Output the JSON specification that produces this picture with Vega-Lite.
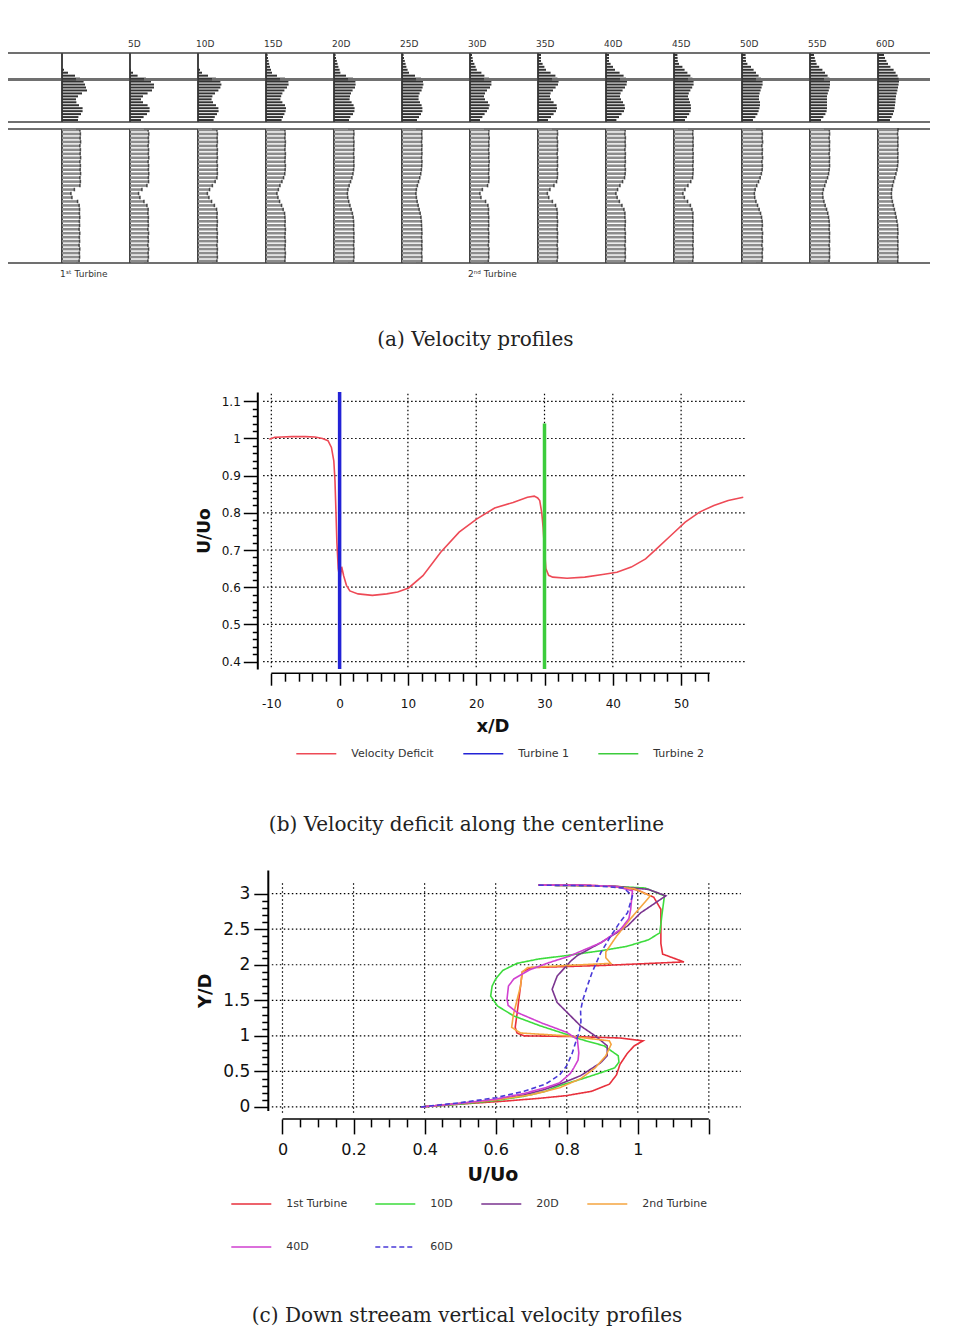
{
"$schema": "https://vega.github.io/schema/vega-lite/v6.json",
"background": "white",
"padding": {"left": 7, "top": 39, "right": 0, "bottom": 0},
"config": {
  "view": {"stroke": null},
  "font": "DejaVu Sans",
  "title": {"font": "DejaVu Serif", "fontSize": 20, "fontWeight": "normal", "color": "#222222"},
  "axis": {"labelFont": "DejaVu Sans", "titleFont": "DejaVu Sans", "labelColor": "#111111", "titleColor": "#111111", "domainColor": "#000000", "tickColor": "#000000", "grid": false},
  "legend": {"labelFont": "DejaVu Sans", "labelColor": "#333333"}
},
"resolve": {"scale": {"x": "independent", "y": "independent", "color": "independent", "strokeDash": "independent"}, "legend": {"color": "independent", "strokeDash": "independent"}},
"spacing": 35,
"datasets": {
"top": [
{"s":0,"z":0.2,"v":0.8},{"s":0,"z":0.5,"v":0.82},{"s":0,"z":0.8,"v":0.95},{"s":0,"z":1.1,"v":1.03},{"s":0,"z":1.4,"v":1.03},{"s":0,"z":1.7,"v":0.85},{"s":0,"z":2.0,"v":0.72},{"s":0,"z":2.3,"v":0.7},{"s":0,"z":2.6,"v":0.8},{"s":0,"z":2.9,"v":1.0},{"s":0,"z":3.2,"v":1.25},{"s":0,"z":3.5,"v":1.2},{"s":0,"z":3.8,"v":1.15},{"s":0,"z":4.1,"v":1.08},{"s":0,"z":4.4,"v":0.9},{"s":0,"z":4.7,"v":0.65},{"s":0,"z":5.0,"v":0.3},{"s":0,"z":5.3,"v":0.1},
{"s":5,"z":0.2,"v":0.55},{"s":5,"z":0.5,"v":0.68},{"s":5,"z":0.8,"v":0.85},{"s":5,"z":1.1,"v":0.98},{"s":5,"z":1.4,"v":0.98},{"s":5,"z":1.7,"v":0.88},{"s":5,"z":2.0,"v":0.65},{"s":5,"z":2.3,"v":0.55},{"s":5,"z":2.6,"v":0.65},{"s":5,"z":2.9,"v":0.88},{"s":5,"z":3.2,"v":1.1},{"s":5,"z":3.5,"v":1.2},{"s":5,"z":3.8,"v":1.2},{"s":5,"z":4.1,"v":1.05},{"s":5,"z":4.4,"v":0.8},{"s":5,"z":4.7,"v":0.38},{"s":5,"z":5.0,"v":0.15},{"s":5,"z":5.3,"v":0.05},
{"s":10,"z":0.2,"v":0.78},{"s":10,"z":0.5,"v":0.84},{"s":10,"z":0.8,"v":0.95},{"s":10,"z":1.1,"v":1.03},{"s":10,"z":1.4,"v":1.02},{"s":10,"z":1.7,"v":0.9},{"s":10,"z":2.0,"v":0.75},{"s":10,"z":2.3,"v":0.68},{"s":10,"z":2.6,"v":0.72},{"s":10,"z":2.9,"v":0.85},{"s":10,"z":3.2,"v":1.02},{"s":10,"z":3.5,"v":1.12},{"s":10,"z":3.8,"v":1.17},{"s":10,"z":4.1,"v":1.12},{"s":10,"z":4.4,"v":0.9},{"s":10,"z":4.7,"v":0.5},{"s":10,"z":5.0,"v":0.2},{"s":10,"z":5.3,"v":0.1},
{"s":15,"z":0.2,"v":0.78},{"s":15,"z":0.5,"v":0.85},{"s":15,"z":0.8,"v":0.92},{"s":15,"z":1.1,"v":0.98},{"s":15,"z":1.4,"v":1.0},{"s":15,"z":1.7,"v":0.95},{"s":15,"z":2.0,"v":0.82},{"s":15,"z":2.3,"v":0.72},{"s":15,"z":2.6,"v":0.76},{"s":15,"z":2.9,"v":0.82},{"s":15,"z":3.2,"v":0.92},{"s":15,"z":3.5,"v":1.05},{"s":15,"z":3.8,"v":1.13},{"s":15,"z":4.1,"v":1.12},{"s":15,"z":4.4,"v":0.95},{"s":15,"z":4.7,"v":0.55},{"s":15,"z":5.0,"v":0.3},{"s":15,"z":5.3,"v":0.25},{"s":15,"z":5.6,"v":0.2},{"s":15,"z":5.9,"v":0.16},{"s":15,"z":6.2,"v":0.13},{"s":15,"z":6.5,"v":0.1},{"s":15,"z":6.8,"v":0.08},
{"s":20,"z":0.2,"v":0.75},{"s":20,"z":0.5,"v":0.82},{"s":20,"z":0.8,"v":0.95},{"s":20,"z":1.1,"v":1.02},{"s":20,"z":1.4,"v":1.03},{"s":20,"z":1.7,"v":0.98},{"s":20,"z":2.0,"v":0.88},{"s":20,"z":2.3,"v":0.78},{"s":20,"z":2.6,"v":0.8},{"s":20,"z":2.9,"v":0.85},{"s":20,"z":3.2,"v":0.93},{"s":20,"z":3.5,"v":1.05},{"s":20,"z":3.8,"v":1.08},{"s":20,"z":4.1,"v":1.07},{"s":20,"z":4.4,"v":0.95},{"s":20,"z":4.7,"v":0.6},{"s":20,"z":5.0,"v":0.32},{"s":20,"z":5.3,"v":0.28},{"s":20,"z":5.6,"v":0.22},{"s":20,"z":5.9,"v":0.18},{"s":20,"z":6.2,"v":0.14},{"s":20,"z":6.5,"v":0.1},{"s":20,"z":6.8,"v":0.08},
{"s":25,"z":0.2,"v":0.75},{"s":25,"z":0.5,"v":0.85},{"s":25,"z":0.8,"v":0.95},{"s":25,"z":1.1,"v":1.02},{"s":25,"z":1.4,"v":1.02},{"s":25,"z":1.7,"v":0.98},{"s":25,"z":2.0,"v":0.9},{"s":25,"z":2.3,"v":0.83},{"s":25,"z":2.6,"v":0.83},{"s":25,"z":2.9,"v":0.88},{"s":25,"z":3.2,"v":0.98},{"s":25,"z":3.5,"v":1.03},{"s":25,"z":3.8,"v":1.07},{"s":25,"z":4.1,"v":1.05},{"s":25,"z":4.4,"v":0.95},{"s":25,"z":4.7,"v":0.65},{"s":25,"z":5.0,"v":0.35},{"s":25,"z":5.3,"v":0.28},{"s":25,"z":5.6,"v":0.22},{"s":25,"z":5.9,"v":0.18},{"s":25,"z":6.2,"v":0.14},{"s":25,"z":6.5,"v":0.1},{"s":25,"z":6.8,"v":0.08},
{"s":30,"z":0.2,"v":0.5},{"s":30,"z":0.5,"v":0.62},{"s":30,"z":0.8,"v":0.73},{"s":30,"z":1.1,"v":0.85},{"s":30,"z":1.4,"v":0.94},{"s":30,"z":1.7,"v":0.98},{"s":30,"z":2.0,"v":0.9},{"s":30,"z":2.3,"v":0.75},{"s":30,"z":2.6,"v":0.7},{"s":30,"z":2.9,"v":0.75},{"s":30,"z":3.2,"v":0.85},{"s":30,"z":3.5,"v":1.0},{"s":30,"z":3.8,"v":1.07},{"s":30,"z":4.1,"v":1.07},{"s":30,"z":4.4,"v":0.95},{"s":30,"z":4.7,"v":0.72},{"s":30,"z":5.0,"v":0.57},{"s":30,"z":5.3,"v":0.34},{"s":30,"z":5.6,"v":0.28},{"s":30,"z":5.9,"v":0.22},{"s":30,"z":6.2,"v":0.15},{"s":30,"z":6.5,"v":0.13},{"s":30,"z":6.8,"v":0.1},
{"s":35,"z":0.2,"v":0.5},{"s":35,"z":0.5,"v":0.65},{"s":35,"z":0.8,"v":0.78},{"s":35,"z":1.1,"v":0.9},{"s":35,"z":1.4,"v":0.95},{"s":35,"z":1.7,"v":0.93},{"s":35,"z":2.0,"v":0.78},{"s":35,"z":2.3,"v":0.65},{"s":35,"z":2.6,"v":0.6},{"s":35,"z":2.9,"v":0.63},{"s":35,"z":3.2,"v":0.75},{"s":35,"z":3.5,"v":0.88},{"s":35,"z":3.8,"v":1.0},{"s":35,"z":4.1,"v":1.03},{"s":35,"z":4.4,"v":0.97},{"s":35,"z":4.7,"v":0.87},{"s":35,"z":5.0,"v":0.63},{"s":35,"z":5.3,"v":0.4},{"s":35,"z":5.6,"v":0.32},{"s":35,"z":5.9,"v":0.23},{"s":35,"z":6.2,"v":0.15},{"s":35,"z":6.5,"v":0.15},{"s":35,"z":6.8,"v":0.15},
{"s":40,"z":0.2,"v":0.52},{"s":40,"z":0.5,"v":0.65},{"s":40,"z":0.8,"v":0.78},{"s":40,"z":1.1,"v":0.9},{"s":40,"z":1.4,"v":0.95},{"s":40,"z":1.7,"v":0.93},{"s":40,"z":2.0,"v":0.85},{"s":40,"z":2.3,"v":0.75},{"s":40,"z":2.6,"v":0.7},{"s":40,"z":2.9,"v":0.73},{"s":40,"z":3.2,"v":0.83},{"s":40,"z":3.5,"v":0.95},{"s":40,"z":3.8,"v":1.03},{"s":40,"z":4.1,"v":1.05},{"s":40,"z":4.4,"v":1.0},{"s":40,"z":4.7,"v":0.88},{"s":40,"z":5.0,"v":0.68},{"s":40,"z":5.3,"v":0.45},{"s":40,"z":5.6,"v":0.35},{"s":40,"z":5.9,"v":0.23},{"s":40,"z":6.2,"v":0.15},{"s":40,"z":6.5,"v":0.15},{"s":40,"z":6.8,"v":0.15},
{"s":45,"z":0.2,"v":0.55},{"s":45,"z":0.5,"v":0.65},{"s":45,"z":0.8,"v":0.76},{"s":45,"z":1.1,"v":0.83},{"s":45,"z":1.4,"v":0.85},{"s":45,"z":1.7,"v":0.84},{"s":45,"z":2.0,"v":0.8},{"s":45,"z":2.3,"v":0.75},{"s":45,"z":2.6,"v":0.7},{"s":45,"z":2.9,"v":0.74},{"s":45,"z":3.2,"v":0.82},{"s":45,"z":3.5,"v":0.91},{"s":45,"z":3.8,"v":0.98},{"s":45,"z":4.1,"v":0.98},{"s":45,"z":4.4,"v":0.92},{"s":45,"z":4.7,"v":0.82},{"s":45,"z":5.0,"v":0.67},{"s":45,"z":5.3,"v":0.53},{"s":45,"z":5.6,"v":0.42},{"s":45,"z":5.9,"v":0.25},{"s":45,"z":6.2,"v":0.19},{"s":45,"z":6.5,"v":0.18},{"s":45,"z":6.8,"v":0.17},
{"s":50,"z":0.2,"v":0.55},{"s":50,"z":0.5,"v":0.67},{"s":50,"z":0.8,"v":0.77},{"s":50,"z":1.1,"v":0.83},{"s":50,"z":1.4,"v":0.87},{"s":50,"z":1.7,"v":0.9},{"s":50,"z":2.0,"v":0.9},{"s":50,"z":2.3,"v":0.85},{"s":50,"z":2.6,"v":0.85},{"s":50,"z":2.9,"v":0.88},{"s":50,"z":3.2,"v":0.93},{"s":50,"z":3.5,"v":0.98},{"s":50,"z":3.8,"v":1.03},{"s":50,"z":4.1,"v":1.03},{"s":50,"z":4.4,"v":0.95},{"s":50,"z":4.7,"v":0.83},{"s":50,"z":5.0,"v":0.7},{"s":50,"z":5.3,"v":0.58},{"s":50,"z":5.6,"v":0.45},{"s":50,"z":5.9,"v":0.27},{"s":50,"z":6.2,"v":0.2},{"s":50,"z":6.5,"v":0.19},{"s":50,"z":6.8,"v":0.18},
{"s":55,"z":0.2,"v":0.55},{"s":55,"z":0.5,"v":0.67},{"s":55,"z":0.8,"v":0.77},{"s":55,"z":1.1,"v":0.83},{"s":55,"z":1.4,"v":0.85},{"s":55,"z":1.7,"v":0.85},{"s":55,"z":2.0,"v":0.85},{"s":55,"z":2.3,"v":0.85},{"s":55,"z":2.6,"v":0.85},{"s":55,"z":2.9,"v":0.89},{"s":55,"z":3.2,"v":0.94},{"s":55,"z":3.5,"v":0.98},{"s":55,"z":3.8,"v":1.0},{"s":55,"z":4.1,"v":1.0},{"s":55,"z":4.4,"v":0.97},{"s":55,"z":4.7,"v":0.88},{"s":55,"z":5.0,"v":0.75},{"s":55,"z":5.3,"v":0.62},{"s":55,"z":5.6,"v":0.46},{"s":55,"z":5.9,"v":0.33},{"s":55,"z":6.2,"v":0.28},{"s":55,"z":6.5,"v":0.24},{"s":55,"z":6.8,"v":0.2},
{"s":60,"z":0.2,"v":0.6},{"s":60,"z":0.5,"v":0.68},{"s":60,"z":0.8,"v":0.75},{"s":60,"z":1.1,"v":0.8},{"s":60,"z":1.4,"v":0.83},{"s":60,"z":1.7,"v":0.85},{"s":60,"z":2.0,"v":0.87},{"s":60,"z":2.3,"v":0.88},{"s":60,"z":2.6,"v":0.9},{"s":60,"z":2.9,"v":0.93},{"s":60,"z":3.2,"v":0.97},{"s":60,"z":3.5,"v":1.0},{"s":60,"z":3.8,"v":1.03},{"s":60,"z":4.1,"v":1.05},{"s":60,"z":4.4,"v":1.03},{"s":60,"z":4.7,"v":0.98},{"s":60,"z":5.0,"v":0.88},{"s":60,"z":5.3,"v":0.78},{"s":60,"z":5.6,"v":0.62},{"s":60,"z":5.9,"v":0.5},{"s":60,"z":6.2,"v":0.42},{"s":60,"z":6.5,"v":0.35},{"s":60,"z":6.8,"v":0.3}
],
"bottom": [
{"s":0,"y":0.2,"v":0.86},{"s":0,"y":0.6,"v":0.88},{"s":0,"y":1.0,"v":0.87},{"s":0,"y":1.4,"v":0.89},{"s":0,"y":1.8,"v":0.86},{"s":0,"y":2.2,"v":0.88},{"s":0,"y":2.6,"v":0.87},{"s":0,"y":3.0,"v":0.89},{"s":0,"y":3.4,"v":0.86},{"s":0,"y":3.8,"v":0.88},{"s":0,"y":4.2,"v":0.87},{"s":0,"y":4.6,"v":0.89},{"s":0,"y":5.0,"v":0.87},{"s":0,"y":5.4,"v":0.88},{"s":0,"y":5.8,"v":0.86},{"s":0,"y":6.2,"v":0.78},{"s":0,"y":6.6,"v":0.5},{"s":0,"y":7.0,"v":0.45},{"s":0,"y":7.4,"v":0.62},{"s":0,"y":7.8,"v":0.9},{"s":0,"y":8.2,"v":0.92},{"s":0,"y":8.6,"v":0.9},{"s":0,"y":9.0,"v":0.93},{"s":0,"y":9.4,"v":0.91},{"s":0,"y":9.8,"v":0.92},{"s":0,"y":10.2,"v":0.9},{"s":0,"y":10.6,"v":0.93},{"s":0,"y":11.0,"v":0.91},{"s":0,"y":11.4,"v":0.92},{"s":0,"y":11.8,"v":0.9},{"s":0,"y":12.2,"v":0.93},{"s":0,"y":12.6,"v":0.91},{"s":0,"y":13.0,"v":0.92},{"s":0,"y":13.4,"v":0.9},
{"s":5,"y":0.2,"v":0.9},{"s":5,"y":0.6,"v":0.92},{"s":5,"y":1.0,"v":0.91},{"s":5,"y":1.4,"v":0.93},{"s":5,"y":1.8,"v":0.9},{"s":5,"y":2.2,"v":0.92},{"s":5,"y":2.6,"v":0.91},{"s":5,"y":3.0,"v":0.93},{"s":5,"y":3.4,"v":0.9},{"s":5,"y":3.8,"v":0.92},{"s":5,"y":4.2,"v":0.91},{"s":5,"y":4.6,"v":0.92},{"s":5,"y":5.0,"v":0.9},{"s":5,"y":5.4,"v":0.91},{"s":5,"y":5.8,"v":0.85},{"s":5,"y":6.2,"v":0.7},{"s":5,"y":6.6,"v":0.5},{"s":5,"y":7.0,"v":0.43},{"s":5,"y":7.4,"v":0.6},{"s":5,"y":7.8,"v":0.85},{"s":5,"y":8.2,"v":0.93},{"s":5,"y":8.6,"v":0.92},{"s":5,"y":9.0,"v":0.94},{"s":5,"y":9.4,"v":0.92},{"s":5,"y":9.8,"v":0.93},{"s":5,"y":10.2,"v":0.91},{"s":5,"y":10.6,"v":0.94},{"s":5,"y":11.0,"v":0.92},{"s":5,"y":11.4,"v":0.93},{"s":5,"y":11.8,"v":0.91},{"s":5,"y":12.2,"v":0.93},{"s":5,"y":12.6,"v":0.92},{"s":5,"y":13.0,"v":0.94},{"s":5,"y":13.4,"v":0.91},
{"s":10,"y":0.2,"v":0.95},{"s":10,"y":0.6,"v":0.97},{"s":10,"y":1.0,"v":0.96},{"s":10,"y":1.4,"v":0.97},{"s":10,"y":1.8,"v":0.95},{"s":10,"y":2.2,"v":0.97},{"s":10,"y":2.6,"v":0.96},{"s":10,"y":3.0,"v":0.97},{"s":10,"y":3.4,"v":0.95},{"s":10,"y":3.8,"v":0.96},{"s":10,"y":4.2,"v":0.97},{"s":10,"y":4.6,"v":0.95},{"s":10,"y":5.0,"v":0.96},{"s":10,"y":5.4,"v":0.93},{"s":10,"y":5.8,"v":0.82},{"s":10,"y":6.2,"v":0.68},{"s":10,"y":6.6,"v":0.55},{"s":10,"y":7.0,"v":0.47},{"s":10,"y":7.4,"v":0.58},{"s":10,"y":7.8,"v":0.72},{"s":10,"y":8.2,"v":0.86},{"s":10,"y":8.6,"v":0.95},{"s":10,"y":9.0,"v":0.97},{"s":10,"y":9.4,"v":0.96},{"s":10,"y":9.8,"v":0.97},{"s":10,"y":10.2,"v":0.95},{"s":10,"y":10.6,"v":0.97},{"s":10,"y":11.0,"v":0.96},{"s":10,"y":11.4,"v":0.97},{"s":10,"y":11.8,"v":0.95},{"s":10,"y":12.2,"v":0.97},{"s":10,"y":12.6,"v":0.96},{"s":10,"y":13.0,"v":0.97},{"s":10,"y":13.4,"v":0.95},
{"s":15,"y":0.2,"v":0.95},{"s":15,"y":0.6,"v":0.96},{"s":15,"y":1.0,"v":0.97},{"s":15,"y":1.4,"v":0.95},{"s":15,"y":1.8,"v":0.96},{"s":15,"y":2.2,"v":0.97},{"s":15,"y":2.6,"v":0.95},{"s":15,"y":3.0,"v":0.96},{"s":15,"y":3.4,"v":0.97},{"s":15,"y":3.8,"v":0.95},{"s":15,"y":4.2,"v":0.96},{"s":15,"y":4.6,"v":0.95},{"s":15,"y":5.0,"v":0.93},{"s":15,"y":5.4,"v":0.86},{"s":15,"y":5.8,"v":0.78},{"s":15,"y":6.2,"v":0.68},{"s":15,"y":6.6,"v":0.6},{"s":15,"y":7.0,"v":0.55},{"s":15,"y":7.4,"v":0.62},{"s":15,"y":7.8,"v":0.7},{"s":15,"y":8.2,"v":0.8},{"s":15,"y":8.6,"v":0.88},{"s":15,"y":9.0,"v":0.94},{"s":15,"y":9.4,"v":0.96},{"s":15,"y":9.8,"v":0.97},{"s":15,"y":10.2,"v":0.95},{"s":15,"y":10.6,"v":0.96},{"s":15,"y":11.0,"v":0.97},{"s":15,"y":11.4,"v":0.95},{"s":15,"y":11.8,"v":0.96},{"s":15,"y":12.2,"v":0.97},{"s":15,"y":12.6,"v":0.95},{"s":15,"y":13.0,"v":0.96},{"s":15,"y":13.4,"v":0.95},
{"s":20,"y":0.2,"v":0.98},{"s":20,"y":0.6,"v":1.0},{"s":20,"y":1.0,"v":0.99},{"s":20,"y":1.4,"v":1.0},{"s":20,"y":1.8,"v":0.98},{"s":20,"y":2.2,"v":1.0},{"s":20,"y":2.6,"v":0.99},{"s":20,"y":3.0,"v":1.0},{"s":20,"y":3.4,"v":0.98},{"s":20,"y":3.8,"v":0.99},{"s":20,"y":4.2,"v":0.98},{"s":20,"y":4.6,"v":0.96},{"s":20,"y":5.0,"v":0.92},{"s":20,"y":5.4,"v":0.86},{"s":20,"y":5.8,"v":0.8},{"s":20,"y":6.2,"v":0.74},{"s":20,"y":6.6,"v":0.69},{"s":20,"y":7.0,"v":0.67},{"s":20,"y":7.4,"v":0.7},{"s":20,"y":7.8,"v":0.76},{"s":20,"y":8.2,"v":0.83},{"s":20,"y":8.6,"v":0.9},{"s":20,"y":9.0,"v":0.95},{"s":20,"y":9.4,"v":0.98},{"s":20,"y":9.8,"v":1.0},{"s":20,"y":10.2,"v":0.99},{"s":20,"y":10.6,"v":1.0},{"s":20,"y":11.0,"v":0.98},{"s":20,"y":11.4,"v":1.0},{"s":20,"y":11.8,"v":0.99},{"s":20,"y":12.2,"v":1.0},{"s":20,"y":12.6,"v":0.98},{"s":20,"y":13.0,"v":1.0},{"s":20,"y":13.4,"v":0.99},
{"s":25,"y":0.2,"v":0.99},{"s":25,"y":0.6,"v":1.0},{"s":25,"y":1.0,"v":0.98},{"s":25,"y":1.4,"v":1.0},{"s":25,"y":1.8,"v":0.99},{"s":25,"y":2.2,"v":1.0},{"s":25,"y":2.6,"v":0.98},{"s":25,"y":3.0,"v":1.0},{"s":25,"y":3.4,"v":0.99},{"s":25,"y":3.8,"v":0.98},{"s":25,"y":4.2,"v":0.97},{"s":25,"y":4.6,"v":0.95},{"s":25,"y":5.0,"v":0.91},{"s":25,"y":5.4,"v":0.86},{"s":25,"y":5.8,"v":0.81},{"s":25,"y":6.2,"v":0.76},{"s":25,"y":6.6,"v":0.72},{"s":25,"y":7.0,"v":0.7},{"s":25,"y":7.4,"v":0.72},{"s":25,"y":7.8,"v":0.77},{"s":25,"y":8.2,"v":0.83},{"s":25,"y":8.6,"v":0.89},{"s":25,"y":9.0,"v":0.94},{"s":25,"y":9.4,"v":0.97},{"s":25,"y":9.8,"v":0.99},{"s":25,"y":10.2,"v":1.0},{"s":25,"y":10.6,"v":0.98},{"s":25,"y":11.0,"v":1.0},{"s":25,"y":11.4,"v":0.99},{"s":25,"y":11.8,"v":1.0},{"s":25,"y":12.2,"v":0.98},{"s":25,"y":12.6,"v":1.0},{"s":25,"y":13.0,"v":0.99},{"s":25,"y":13.4,"v":1.0},
{"s":30,"y":0.2,"v":0.92},{"s":30,"y":0.6,"v":0.94},{"s":30,"y":1.0,"v":0.93},{"s":30,"y":1.4,"v":0.95},{"s":30,"y":1.8,"v":0.92},{"s":30,"y":2.2,"v":0.94},{"s":30,"y":2.6,"v":0.93},{"s":30,"y":3.0,"v":0.94},{"s":30,"y":3.4,"v":0.92},{"s":30,"y":3.8,"v":0.94},{"s":30,"y":4.2,"v":0.93},{"s":30,"y":4.6,"v":0.94},{"s":30,"y":5.0,"v":0.92},{"s":30,"y":5.4,"v":0.93},{"s":30,"y":5.8,"v":0.9},{"s":30,"y":6.2,"v":0.78},{"s":30,"y":6.6,"v":0.55},{"s":30,"y":7.0,"v":0.5},{"s":30,"y":7.4,"v":0.62},{"s":30,"y":7.8,"v":0.88},{"s":30,"y":8.2,"v":0.94},{"s":30,"y":8.6,"v":0.95},{"s":30,"y":9.0,"v":0.93},{"s":30,"y":9.4,"v":0.95},{"s":30,"y":9.8,"v":0.94},{"s":30,"y":10.2,"v":0.96},{"s":30,"y":10.6,"v":0.94},{"s":30,"y":11.0,"v":0.95},{"s":30,"y":11.4,"v":0.93},{"s":30,"y":11.8,"v":0.95},{"s":30,"y":12.2,"v":0.94},{"s":30,"y":12.6,"v":0.96},{"s":30,"y":13.0,"v":0.94},{"s":30,"y":13.4,"v":0.95},
{"s":35,"y":0.2,"v":0.96},{"s":35,"y":0.6,"v":0.98},{"s":35,"y":1.0,"v":0.97},{"s":35,"y":1.4,"v":0.98},{"s":35,"y":1.8,"v":0.96},{"s":35,"y":2.2,"v":0.98},{"s":35,"y":2.6,"v":0.97},{"s":35,"y":3.0,"v":0.98},{"s":35,"y":3.4,"v":0.96},{"s":35,"y":3.8,"v":0.97},{"s":35,"y":4.2,"v":0.98},{"s":35,"y":4.6,"v":0.96},{"s":35,"y":5.0,"v":0.97},{"s":35,"y":5.4,"v":0.95},{"s":35,"y":5.8,"v":0.88},{"s":35,"y":6.2,"v":0.72},{"s":35,"y":6.6,"v":0.54},{"s":35,"y":7.0,"v":0.47},{"s":35,"y":7.4,"v":0.6},{"s":35,"y":7.8,"v":0.8},{"s":35,"y":8.2,"v":0.93},{"s":35,"y":8.6,"v":0.97},{"s":35,"y":9.0,"v":0.98},{"s":35,"y":9.4,"v":0.96},{"s":35,"y":9.8,"v":0.98},{"s":35,"y":10.2,"v":0.97},{"s":35,"y":10.6,"v":0.98},{"s":35,"y":11.0,"v":0.96},{"s":35,"y":11.4,"v":0.98},{"s":35,"y":11.8,"v":0.97},{"s":35,"y":12.2,"v":0.98},{"s":35,"y":12.6,"v":0.96},{"s":35,"y":13.0,"v":0.98},{"s":35,"y":13.4,"v":0.97},
{"s":40,"y":0.2,"v":0.95},{"s":40,"y":0.6,"v":0.97},{"s":40,"y":1.0,"v":0.96},{"s":40,"y":1.4,"v":0.97},{"s":40,"y":1.8,"v":0.95},{"s":40,"y":2.2,"v":0.97},{"s":40,"y":2.6,"v":0.96},{"s":40,"y":3.0,"v":0.97},{"s":40,"y":3.4,"v":0.95},{"s":40,"y":3.8,"v":0.96},{"s":40,"y":4.2,"v":0.97},{"s":40,"y":4.6,"v":0.95},{"s":40,"y":5.0,"v":0.95},{"s":40,"y":5.4,"v":0.9},{"s":40,"y":5.8,"v":0.8},{"s":40,"y":6.2,"v":0.67},{"s":40,"y":6.6,"v":0.56},{"s":40,"y":7.0,"v":0.5},{"s":40,"y":7.4,"v":0.58},{"s":40,"y":7.8,"v":0.7},{"s":40,"y":8.2,"v":0.83},{"s":40,"y":8.6,"v":0.93},{"s":40,"y":9.0,"v":0.96},{"s":40,"y":9.4,"v":0.97},{"s":40,"y":9.8,"v":0.95},{"s":40,"y":10.2,"v":0.97},{"s":40,"y":10.6,"v":0.96},{"s":40,"y":11.0,"v":0.97},{"s":40,"y":11.4,"v":0.95},{"s":40,"y":11.8,"v":0.97},{"s":40,"y":12.2,"v":0.96},{"s":40,"y":12.6,"v":0.97},{"s":40,"y":13.0,"v":0.95},{"s":40,"y":13.4,"v":0.96},
{"s":45,"y":0.2,"v":0.94},{"s":45,"y":0.6,"v":0.96},{"s":45,"y":1.0,"v":0.95},{"s":45,"y":1.4,"v":0.96},{"s":45,"y":1.8,"v":0.94},{"s":45,"y":2.2,"v":0.96},{"s":45,"y":2.6,"v":0.95},{"s":45,"y":3.0,"v":0.96},{"s":45,"y":3.4,"v":0.94},{"s":45,"y":3.8,"v":0.95},{"s":45,"y":4.2,"v":0.96},{"s":45,"y":4.6,"v":0.94},{"s":45,"y":5.0,"v":0.95},{"s":45,"y":5.4,"v":0.9},{"s":45,"y":5.8,"v":0.82},{"s":45,"y":6.2,"v":0.68},{"s":45,"y":6.6,"v":0.52},{"s":45,"y":7.0,"v":0.45},{"s":45,"y":7.4,"v":0.55},{"s":45,"y":7.8,"v":0.7},{"s":45,"y":8.2,"v":0.84},{"s":45,"y":8.6,"v":0.93},{"s":45,"y":9.0,"v":0.95},{"s":45,"y":9.4,"v":0.96},{"s":45,"y":9.8,"v":0.94},{"s":45,"y":10.2,"v":0.96},{"s":45,"y":10.6,"v":0.95},{"s":45,"y":11.0,"v":0.96},{"s":45,"y":11.4,"v":0.94},{"s":45,"y":11.8,"v":0.96},{"s":45,"y":12.2,"v":0.95},{"s":45,"y":12.6,"v":0.96},{"s":45,"y":13.0,"v":0.94},{"s":45,"y":13.4,"v":0.95},
{"s":50,"y":0.2,"v":1.0},{"s":50,"y":0.6,"v":1.02},{"s":50,"y":1.0,"v":1.01},{"s":50,"y":1.4,"v":1.03},{"s":50,"y":1.8,"v":1.0},{"s":50,"y":2.2,"v":1.02},{"s":50,"y":2.6,"v":1.01},{"s":50,"y":3.0,"v":1.03},{"s":50,"y":3.4,"v":1.0},{"s":50,"y":3.8,"v":1.02},{"s":50,"y":4.2,"v":1.01},{"s":50,"y":4.6,"v":0.98},{"s":50,"y":5.0,"v":0.93},{"s":50,"y":5.4,"v":0.86},{"s":50,"y":5.8,"v":0.78},{"s":50,"y":6.2,"v":0.7},{"s":50,"y":6.6,"v":0.64},{"s":50,"y":7.0,"v":0.62},{"s":50,"y":7.4,"v":0.66},{"s":50,"y":7.8,"v":0.74},{"s":50,"y":8.2,"v":0.83},{"s":50,"y":8.6,"v":0.91},{"s":50,"y":9.0,"v":0.97},{"s":50,"y":9.4,"v":1.01},{"s":50,"y":9.8,"v":1.02},{"s":50,"y":10.2,"v":1.0},{"s":50,"y":10.6,"v":1.03},{"s":50,"y":11.0,"v":1.01},{"s":50,"y":11.4,"v":1.02},{"s":50,"y":11.8,"v":1.0},{"s":50,"y":12.2,"v":1.03},{"s":50,"y":12.6,"v":1.01},{"s":50,"y":13.0,"v":1.02},{"s":50,"y":13.4,"v":1.0},
{"s":55,"y":0.2,"v":0.96},{"s":55,"y":0.6,"v":0.98},{"s":55,"y":1.0,"v":0.97},{"s":55,"y":1.4,"v":0.98},{"s":55,"y":1.8,"v":0.96},{"s":55,"y":2.2,"v":0.98},{"s":55,"y":2.6,"v":0.97},{"s":55,"y":3.0,"v":0.98},{"s":55,"y":3.4,"v":0.96},{"s":55,"y":3.8,"v":0.97},{"s":55,"y":4.2,"v":0.96},{"s":55,"y":4.6,"v":0.93},{"s":55,"y":5.0,"v":0.89},{"s":55,"y":5.4,"v":0.83},{"s":55,"y":5.8,"v":0.76},{"s":55,"y":6.2,"v":0.7},{"s":55,"y":6.6,"v":0.65},{"s":55,"y":7.0,"v":0.63},{"s":55,"y":7.4,"v":0.67},{"s":55,"y":7.8,"v":0.74},{"s":55,"y":8.2,"v":0.81},{"s":55,"y":8.6,"v":0.88},{"s":55,"y":9.0,"v":0.93},{"s":55,"y":9.4,"v":0.96},{"s":55,"y":9.8,"v":0.98},{"s":55,"y":10.2,"v":0.97},{"s":55,"y":10.6,"v":0.98},{"s":55,"y":11.0,"v":0.96},{"s":55,"y":11.4,"v":0.98},{"s":55,"y":11.8,"v":0.97},{"s":55,"y":12.2,"v":0.98},{"s":55,"y":12.6,"v":0.96},{"s":55,"y":13.0,"v":0.98},{"s":55,"y":13.4,"v":0.97},
{"s":60,"y":0.2,"v":0.99},{"s":60,"y":0.6,"v":1.0},{"s":60,"y":1.0,"v":0.98},{"s":60,"y":1.4,"v":1.0},{"s":60,"y":1.8,"v":0.99},{"s":60,"y":2.2,"v":1.0},{"s":60,"y":2.6,"v":0.98},{"s":60,"y":3.0,"v":1.0},{"s":60,"y":3.4,"v":0.99},{"s":60,"y":3.8,"v":0.98},{"s":60,"y":4.2,"v":0.95},{"s":60,"y":4.6,"v":0.91},{"s":60,"y":5.0,"v":0.87},{"s":60,"y":5.4,"v":0.82},{"s":60,"y":5.8,"v":0.77},{"s":60,"y":6.2,"v":0.72},{"s":60,"y":6.6,"v":0.68},{"s":60,"y":7.0,"v":0.67},{"s":60,"y":7.4,"v":0.69},{"s":60,"y":7.8,"v":0.73},{"s":60,"y":8.2,"v":0.78},{"s":60,"y":8.6,"v":0.84},{"s":60,"y":9.0,"v":0.9},{"s":60,"y":9.4,"v":0.95},{"s":60,"y":9.8,"v":0.98},{"s":60,"y":10.2,"v":1.0},{"s":60,"y":10.6,"v":0.99},{"s":60,"y":11.0,"v":1.0},{"s":60,"y":11.4,"v":0.98},{"s":60,"y":11.8,"v":1.0},{"s":60,"y":12.2,"v":0.99},{"s":60,"y":12.6,"v":1.0},{"s":60,"y":13.0,"v":0.98},{"s":60,"y":13.4,"v":1.0}
],
"deficit": [
{"x":-10.3,"u":0.998},{"x":-9.5,"u":1.003},{"x":-8.5,"u":1.004},{"x":-7,"u":1.005},{"x":-5,"u":1.005},{"x":-3.6,"u":1.004},{"x":-2.5,"u":1.0},{"x":-1.7,"u":0.994},{"x":-1.2,"u":0.976},{"x":-0.85,"u":0.94},{"x":-0.68,"u":0.887},{"x":-0.53,"u":0.8},{"x":-0.4,"u":0.72},{"x":-0.2,"u":0.65},{"x":0.05,"u":0.62},{"x":0.3,"u":0.655},{"x":0.6,"u":0.63},{"x":1.0,"u":0.605},{"x":1.5,"u":0.59},{"x":2.7,"u":0.582},{"x":4.8,"u":0.578},{"x":6.9,"u":0.582},{"x":8.5,"u":0.587},{"x":10.1,"u":0.598},{"x":12.2,"u":0.631},{"x":14.8,"u":0.694},{"x":17.5,"u":0.748},{"x":20.1,"u":0.784},{"x":22.7,"u":0.813},{"x":25.4,"u":0.828},{"x":27.5,"u":0.842},{"x":28.5,"u":0.845},{"x":29.0,"u":0.84},{"x":29.3,"u":0.833},{"x":29.6,"u":0.8},{"x":29.8,"u":0.76},{"x":30.0,"u":0.7},{"x":30.2,"u":0.65},{"x":30.6,"u":0.632},{"x":31.2,"u":0.627},{"x":33.3,"u":0.624},{"x":35.9,"u":0.627},{"x":38.5,"u":0.634},{"x":40.6,"u":0.64},{"x":42.7,"u":0.654},{"x":44.8,"u":0.676},{"x":46.4,"u":0.703},{"x":48.5,"u":0.739},{"x":50.6,"u":0.775},{"x":52.7,"u":0.802},{"x":54.8,"u":0.82},{"x":56.9,"u":0.833},{"x":59.1,"u":0.842}
],
"turbines": [
{"series":"Turbine 1","x":0,"u":0.38},{"series":"Turbine 1","x":0,"u":1.125},{"series":"Turbine 2","x":30,"u":0.38},{"series":"Turbine 2","x":30,"u":1.04}
],
"profiles": [
{"series":"1st Turbine","i":0,"u":0.39,"yd":0},{"series":"1st Turbine","i":1,"u":0.5,"yd":0.04},{"series":"1st Turbine","i":2,"u":0.62,"yd":0.08},{"series":"1st Turbine","i":3,"u":0.72,"yd":0.12},{"series":"1st Turbine","i":4,"u":0.8,"yd":0.16},{"series":"1st Turbine","i":5,"u":0.87,"yd":0.22},{"series":"1st Turbine","i":6,"u":0.92,"yd":0.32},{"series":"1st Turbine","i":7,"u":0.94,"yd":0.45},{"series":"1st Turbine","i":8,"u":0.95,"yd":0.6},{"series":"1st Turbine","i":9,"u":0.97,"yd":0.75},{"series":"1st Turbine","i":10,"u":0.99,"yd":0.86},{"series":"1st Turbine","i":11,"u":1.015,"yd":0.93},{"series":"1st Turbine","i":12,"u":0.95,"yd":0.97},{"series":"1st Turbine","i":13,"u":0.82,"yd":0.99},{"series":"1st Turbine","i":14,"u":0.68,"yd":1.0},{"series":"1st Turbine","i":15,"u":0.66,"yd":1.04},{"series":"1st Turbine","i":16,"u":0.655,"yd":1.12},{"series":"1st Turbine","i":17,"u":0.66,"yd":1.3},{"series":"1st Turbine","i":18,"u":0.665,"yd":1.5},{"series":"1st Turbine","i":19,"u":0.67,"yd":1.7},{"series":"1st Turbine","i":20,"u":0.675,"yd":1.9},{"series":"1st Turbine","i":21,"u":0.7,"yd":1.96},{"series":"1st Turbine","i":22,"u":0.9,"yd":1.99},{"series":"1st Turbine","i":23,"u":1.13,"yd":2.04},{"series":"1st Turbine","i":24,"u":1.07,"yd":2.15},{"series":"1st Turbine","i":25,"u":1.065,"yd":2.3},{"series":"1st Turbine","i":26,"u":1.065,"yd":2.55},{"series":"1st Turbine","i":27,"u":1.065,"yd":2.78},{"series":"1st Turbine","i":28,"u":1.045,"yd":2.95},{"series":"1st Turbine","i":29,"u":1.0,"yd":3.05},{"series":"1st Turbine","i":30,"u":0.95,"yd":3.1},{"series":"1st Turbine","i":31,"u":0.85,"yd":3.12},{"series":"1st Turbine","i":32,"u":0.72,"yd":3.12},
{"series":"10D","i":0,"u":0.39,"yd":0},{"series":"10D","i":1,"u":0.5,"yd":0.04},{"series":"10D","i":2,"u":0.6,"yd":0.09},{"series":"10D","i":3,"u":0.68,"yd":0.15},{"series":"10D","i":4,"u":0.74,"yd":0.22},{"series":"10D","i":5,"u":0.78,"yd":0.3},{"series":"10D","i":6,"u":0.84,"yd":0.39},{"series":"10D","i":7,"u":0.895,"yd":0.48},{"series":"10D","i":8,"u":0.935,"yd":0.55},{"series":"10D","i":9,"u":0.947,"yd":0.63},{"series":"10D","i":10,"u":0.945,"yd":0.72},{"series":"10D","i":11,"u":0.905,"yd":0.86},{"series":"10D","i":12,"u":0.84,"yd":0.95},{"series":"10D","i":13,"u":0.8,"yd":1.02},{"series":"10D","i":14,"u":0.726,"yd":1.14},{"series":"10D","i":15,"u":0.651,"yd":1.28},{"series":"10D","i":16,"u":0.605,"yd":1.42},{"series":"10D","i":17,"u":0.586,"yd":1.56},{"series":"10D","i":18,"u":0.59,"yd":1.7},{"series":"10D","i":19,"u":0.6,"yd":1.8},{"series":"10D","i":20,"u":0.62,"yd":1.92},{"series":"10D","i":21,"u":0.66,"yd":2.02},{"series":"10D","i":22,"u":0.72,"yd":2.08},{"series":"10D","i":23,"u":0.8,"yd":2.13},{"series":"10D","i":24,"u":0.9,"yd":2.2},{"series":"10D","i":25,"u":0.97,"yd":2.26},{"series":"10D","i":26,"u":1.03,"yd":2.35},{"series":"10D","i":27,"u":1.062,"yd":2.45},{"series":"10D","i":28,"u":1.068,"yd":2.7},{"series":"10D","i":29,"u":1.075,"yd":2.97},{"series":"10D","i":30,"u":1.02,"yd":3.08},{"series":"10D","i":31,"u":0.9,"yd":3.11},{"series":"10D","i":32,"u":0.72,"yd":3.12},
{"series":"20D","i":0,"u":0.39,"yd":0},{"series":"20D","i":1,"u":0.5,"yd":0.05},{"series":"20D","i":2,"u":0.6,"yd":0.1},{"series":"20D","i":3,"u":0.68,"yd":0.17},{"series":"20D","i":4,"u":0.74,"yd":0.25},{"series":"20D","i":5,"u":0.78,"yd":0.32},{"series":"20D","i":6,"u":0.839,"yd":0.44},{"series":"20D","i":7,"u":0.895,"yd":0.62},{"series":"20D","i":8,"u":0.914,"yd":0.72},{"series":"20D","i":9,"u":0.914,"yd":0.86},{"series":"20D","i":10,"u":0.88,"yd":1.0},{"series":"20D","i":11,"u":0.839,"yd":1.14},{"series":"20D","i":12,"u":0.811,"yd":1.28},{"series":"20D","i":13,"u":0.773,"yd":1.47},{"series":"20D","i":14,"u":0.759,"yd":1.655},{"series":"20D","i":15,"u":0.773,"yd":1.84},{"series":"20D","i":16,"u":0.811,"yd":2.05},{"series":"20D","i":17,"u":0.83,"yd":2.13},{"series":"20D","i":18,"u":0.896,"yd":2.31},{"series":"20D","i":19,"u":0.971,"yd":2.545},{"series":"20D","i":20,"u":1.008,"yd":2.73},{"series":"20D","i":21,"u":1.079,"yd":2.97},{"series":"20D","i":22,"u":1.03,"yd":3.06},{"series":"20D","i":23,"u":0.92,"yd":3.11},{"series":"20D","i":24,"u":0.72,"yd":3.12},
{"series":"2nd Turbine","i":0,"u":0.39,"yd":0},{"series":"2nd Turbine","i":1,"u":0.5,"yd":0.05},{"series":"2nd Turbine","i":2,"u":0.6,"yd":0.1},{"series":"2nd Turbine","i":3,"u":0.7,"yd":0.17},{"series":"2nd Turbine","i":4,"u":0.78,"yd":0.27},{"series":"2nd Turbine","i":5,"u":0.84,"yd":0.4},{"series":"2nd Turbine","i":6,"u":0.88,"yd":0.55},{"series":"2nd Turbine","i":7,"u":0.91,"yd":0.72},{"series":"2nd Turbine","i":8,"u":0.925,"yd":0.88},{"series":"2nd Turbine","i":9,"u":0.92,"yd":0.93},{"series":"2nd Turbine","i":10,"u":0.8,"yd":1.0},{"series":"2nd Turbine","i":11,"u":0.67,"yd":1.04},{"series":"2nd Turbine","i":12,"u":0.645,"yd":1.12},{"series":"2nd Turbine","i":13,"u":0.65,"yd":1.3},{"series":"2nd Turbine","i":14,"u":0.66,"yd":1.5},{"series":"2nd Turbine","i":15,"u":0.67,"yd":1.7},{"series":"2nd Turbine","i":16,"u":0.675,"yd":1.9},{"series":"2nd Turbine","i":17,"u":0.69,"yd":1.96},{"series":"2nd Turbine","i":18,"u":0.8,"yd":1.99},{"series":"2nd Turbine","i":19,"u":0.924,"yd":2.02},{"series":"2nd Turbine","i":20,"u":0.91,"yd":2.1},{"series":"2nd Turbine","i":21,"u":0.91,"yd":2.18},{"series":"2nd Turbine","i":22,"u":0.94,"yd":2.4},{"series":"2nd Turbine","i":23,"u":0.98,"yd":2.65},{"series":"2nd Turbine","i":24,"u":1.02,"yd":2.88},{"series":"2nd Turbine","i":25,"u":1.035,"yd":2.97},{"series":"2nd Turbine","i":26,"u":0.99,"yd":3.07},{"series":"2nd Turbine","i":27,"u":0.9,"yd":3.11},{"series":"2nd Turbine","i":28,"u":0.72,"yd":3.12},
{"series":"40D","i":0,"u":0.39,"yd":0},{"series":"40D","i":1,"u":0.5,"yd":0.05},{"series":"40D","i":2,"u":0.6,"yd":0.11},{"series":"40D","i":3,"u":0.68,"yd":0.19},{"series":"40D","i":4,"u":0.74,"yd":0.27},{"series":"40D","i":5,"u":0.78,"yd":0.34},{"series":"40D","i":6,"u":0.81,"yd":0.47},{"series":"40D","i":7,"u":0.82,"yd":0.55},{"series":"40D","i":8,"u":0.832,"yd":0.66},{"series":"40D","i":9,"u":0.834,"yd":0.76},{"series":"40D","i":10,"u":0.83,"yd":0.95},{"series":"40D","i":11,"u":0.8,"yd":1.05},{"series":"40D","i":12,"u":0.73,"yd":1.18},{"series":"40D","i":13,"u":0.66,"yd":1.33},{"series":"40D","i":14,"u":0.635,"yd":1.43},{"series":"40D","i":15,"u":0.632,"yd":1.52},{"series":"40D","i":16,"u":0.636,"yd":1.7},{"series":"40D","i":17,"u":0.651,"yd":1.8},{"series":"40D","i":18,"u":0.696,"yd":1.93},{"series":"40D","i":19,"u":0.75,"yd":2.03},{"series":"40D","i":20,"u":0.807,"yd":2.12},{"series":"40D","i":21,"u":0.896,"yd":2.31},{"series":"40D","i":22,"u":0.952,"yd":2.5},{"series":"40D","i":23,"u":0.975,"yd":2.65},{"series":"40D","i":24,"u":0.98,"yd":2.78},{"series":"40D","i":25,"u":0.985,"yd":3.04},{"series":"40D","i":26,"u":0.94,"yd":3.1},{"series":"40D","i":27,"u":0.85,"yd":3.12},{"series":"40D","i":28,"u":0.72,"yd":3.12},
{"series":"60D","i":0,"u":0.39,"yd":0},{"series":"60D","i":1,"u":0.5,"yd":0.06},{"series":"60D","i":2,"u":0.6,"yd":0.13},{"series":"60D","i":3,"u":0.68,"yd":0.22},{"series":"60D","i":4,"u":0.74,"yd":0.32},{"series":"60D","i":5,"u":0.78,"yd":0.45},{"series":"60D","i":6,"u":0.8,"yd":0.58},{"series":"60D","i":7,"u":0.815,"yd":0.75},{"series":"60D","i":8,"u":0.825,"yd":0.905},{"series":"60D","i":9,"u":0.835,"yd":1.05},{"series":"60D","i":10,"u":0.84,"yd":1.2},{"series":"60D","i":11,"u":0.839,"yd":1.35},{"series":"60D","i":12,"u":0.845,"yd":1.5},{"series":"60D","i":13,"u":0.858,"yd":1.7},{"series":"60D","i":14,"u":0.872,"yd":1.9},{"series":"60D","i":15,"u":0.896,"yd":2.17},{"series":"60D","i":16,"u":0.924,"yd":2.405},{"series":"60D","i":17,"u":0.95,"yd":2.6},{"series":"60D","i":18,"u":0.971,"yd":2.73},{"series":"60D","i":19,"u":0.985,"yd":2.97},{"series":"60D","i":20,"u":0.96,"yd":3.08},{"series":"60D","i":21,"u":0.88,"yd":3.11},{"series":"60D","i":22,"u":0.72,"yd":3.12}
]
},
"vconcat": [
{
  "resolve": {"scale": {"x": "independent", "y": "independent"}},
  "spacing": 5,
  "title": {"text": "(a) Velocity profiles", "orient": "bottom", "anchor": "middle", "offset": 51},
  "vconcat": [
    {
      "data": {"name": "top"},
      "facet": {"column": {"field": "s", "type": "ordinal", "header": {"title": null, "labelExpr": "datum.value == 0 ? '' : datum.value + 'D'", "labelFontSize": 9, "labelFont": "DejaVu Sans", "labelColor": "#333333", "labelAnchor": "start", "labelAlign": "left", "labelPadding": 4.5}}},
      "spacing": 0,
      "bounds": "flush",
      "spec": {
        "width": 67.6, "height": 69,
        "layer": [
          {"mark": {"type": "rule", "color": "#707070", "strokeWidth": 2}, "encoding": {"y": {"datum": 7, "type": "quantitative", "axis": null}, "x": {"datum": -2.685, "type": "quantitative", "axis": null}, "x2": {"datum": 2.585}}},
          {"mark": {"type": "rule", "color": "#707070", "strokeWidth": 2}, "encoding": {"y": {"datum": 4.28, "type": "quantitative", "axis": null}, "x": {"datum": -2.685, "type": "quantitative", "axis": null}, "x2": {"datum": 2.585}}},
          {"mark": {"type": "rule", "color": "#707070", "strokeWidth": 2}, "encoding": {"y": {"datum": 0, "type": "quantitative", "axis": null}, "x": {"datum": -2.685, "type": "quantitative", "axis": null}, "x2": {"datum": 2.585}}},
          {"mark": {"type": "rule", "color": "#444444", "strokeWidth": 1}, "encoding": {"x": {"datum": 0, "type": "quantitative", "axis": null}, "y": {"datum": 0, "type": "quantitative", "axis": null}, "y2": {"datum": 7}}},
          {"mark": {"type": "bar", "orient": "horizontal", "height": 2, "color": "#333333"}, "encoding": {"y": {"field": "z", "type": "quantitative", "scale": {"domain": [0, 7], "nice": false, "zero": false, "padding": 0}, "axis": null}, "x": {"field": "v", "type": "quantitative", "stack": null, "scale": {"domain": [-0.1, 3.28], "nice": false, "zero": false, "padding": 0}, "axis": null}, "x2": {"datum": 0}}}
        ]
      }
    },
    {
      "data": {"name": "bottom"},
      "facet": {"column": {"field": "s", "type": "ordinal", "header": {"title": null, "labelOrient": "bottom", "labelExpr": "datum.value == 0 ? '1ˢᵗ Turbine' : (datum.value == 30 ? '2ⁿᵈ Turbine' : '')", "labelFontSize": 9, "labelFont": "DejaVu Sans", "labelColor": "#333333", "labelAnchor": "start", "labelAlign": "left", "labelPadding": 7}}},
      "spacing": 0,
      "bounds": "flush",
      "spec": {
        "width": 67.6, "height": 134,
        "layer": [
          {"mark": {"type": "rule", "color": "#707070", "strokeWidth": 2}, "encoding": {"y": {"datum": 13.5, "type": "quantitative", "axis": null}, "x": {"datum": -2.685, "type": "quantitative", "axis": null}, "x2": {"datum": 2.585}}},
          {"mark": {"type": "rule", "color": "#707070", "strokeWidth": 2}, "encoding": {"y": {"datum": 0, "type": "quantitative", "axis": null}, "x": {"datum": -2.685, "type": "quantitative", "axis": null}, "x2": {"datum": 2.585}}},
          {"mark": {"type": "rule", "color": "#444444", "strokeWidth": 1}, "encoding": {"x": {"datum": 0, "type": "quantitative", "axis": null}, "y": {"datum": 0, "type": "quantitative", "axis": null}, "y2": {"datum": 13.5}}},
          {"mark": {"type": "bar", "orient": "horizontal", "height": 2.6, "color": "#8c8c8c"}, "encoding": {"y": {"field": "y", "type": "quantitative", "scale": {"domain": [0, 13.5], "nice": false, "zero": false, "padding": 0}, "axis": null}, "x": {"field": "v", "type": "quantitative", "stack": null, "scale": {"domain": [-0.1, 3.28], "nice": false, "zero": false, "padding": 0}, "axis": null}, "x2": {"datum": 0}}},
          {"mark": {"type": "tick", "orient": "vertical", "color": "#111111", "thickness": 1.5, "size": 3.5}, "encoding": {"y": {"field": "y", "type": "quantitative", "axis": null}, "x": {"field": "v", "type": "quantitative", "axis": null}}}
        ]
      }
    }
  ]
},
{
  "width": 865, "height": 277,
  "title": {"text": "(b) Velocity deficit along the centerline", "orient": "bottom", "anchor": "middle", "dx": -26, "offset": 56},
  "layer": [
    {"data": {"values": [{"g":0.4},{"g":0.5},{"g":0.6},{"g":0.7},{"g":0.8},{"g":0.9},{"g":1.0},{"g":1.1}]},
     "mark": {"type": "rule", "color": "#000000", "strokeWidth": 1.2, "strokeDash": [1.5, 2.5]},
     "encoding": {"y": {"field": "g", "type": "quantitative"}, "x": {"datum": -11.2, "type": "quantitative"}, "x2": {"datum": 59.3}}},
    {"data": {"values": [{"g":-10},{"g":0},{"g":10},{"g":20},{"g":30},{"g":40},{"g":50}]},
     "mark": {"type": "rule", "color": "#000000", "strokeWidth": 1.2, "strokeDash": [1.5, 2.5]},
     "encoding": {"x": {"field": "g", "type": "quantitative"}, "y": {"datum": 0.385, "type": "quantitative"}, "y2": {"datum": 1.12}}},
    {"data": {"values": [{}]},
     "mark": {"type": "rule", "color": "#000000", "strokeWidth": 1.5},
     "encoding": {"y": {"datum": 0.3687, "type": "quantitative"}, "x": {"datum": -10, "type": "quantitative"}, "x2": {"datum": 54.2}}},
    {"data": {"name": "deficit"},
     "mark": {"type": "line", "strokeWidth": 1.6},
     "encoding": {
       "x": {"field": "x", "type": "quantitative", "scale": {"domain": [-40.94, 85.71], "nice": false, "zero": false},
             "axis": {"values": [-10,-8,-6,-4,-2,0,2,4,6,8,10,12,14,16,18,20,22,24,26,28,30,32,34,36,38,40,42,44,46,48,50,52,54], "tickCount": 200, "labelExpr": "datum.value % 10 === 0 ? '' + datum.value : ''", "domain": false, "offset": 4.2, "tickSize": {"condition": {"test": "datum.value % 10 === 0", "value": 12}, "value": 8}, "tickWidth": 1.5, "labelFontSize": 12, "labelPadding": 13, "labelOverlap": false, "labelFlush": false, "title": "x/D", "titleFontSize": 18, "titleFontWeight": "bold", "titlePadding": 8}},
       "y": {"field": "u", "type": "quantitative", "scale": {"domain": [0.38, 1.125], "nice": false, "zero": false},
             "axis": {"values": [0.4,0.42,0.44,0.46,0.48,0.5,0.52,0.54,0.56,0.58,0.6,0.62,0.64,0.66,0.68,0.7,0.72,0.74,0.76,0.78,0.8,0.82,0.84,0.86,0.88,0.9,0.92,0.94,0.96,0.98,1,1.02,1.04,1.06,1.08,1.1], "tickCount": 200, "labelExpr": "abs(datum.value*10 - round(datum.value*10)) < 0.01 ? '' + round(datum.value*10)/10 : ''", "offset": -197.3, "domainWidth": 2, "tickSize": {"condition": {"test": "abs(datum.value*10 - round(datum.value*10)) < 0.01", "value": 14}, "value": 5}, "tickWidth": 1.5, "labelFontSize": 12, "labelPadding": 3, "labelOverlap": false, "labelFlush": false, "title": "U/Uo", "titleFontSize": 17, "titleFontWeight": "bold", "titlePadding": 8}},
       "color": {"datum": "Velocity Deficit", "type": "nominal",
                 "scale": {"domain": ["Velocity Deficit", "Turbine 1", "Turbine 2"], "range": ["#ee4a56", "#2323d6", "#3ccc3c"]},
                 "legend": {"orient": "none", "legendX": 235.3, "legendY": 340.8, "direction": "horizontal", "title": null, "symbolType": "stroke", "symbolSize": 1600, "symbolStrokeWidth": 1.6, "labelFontSize": 11, "labelOffset": 14, "columnPadding": 25, "padding": 0,
                            "encode": {"symbols": {"update": {"stroke": {"signal": "datum.label == 'Turbine 1' ? '#3b2a78' : (datum.label == 'Velocity Deficit' ? '#c8564f' : '#44cc44')"}}}}}
       }
     }},
    {"data": {"name": "turbines"},
     "mark": {"type": "line", "strokeWidth": 3.5},
     "encoding": {"x": {"field": "x", "type": "quantitative"}, "y": {"field": "u", "type": "quantitative"}, "color": {"field": "series", "type": "nominal", "legend": null}, "order": {"field": "u"}}}
  ]
},
{
  "width": 865, "height": 240.5,
  "title": {"text": "(c) Down streeam vertical velocity profiles", "orient": "bottom", "anchor": "middle", "dx": -25.5, "offset": 54},
  "layer": [
    {"data": {"values": [{"g":0},{"g":0.5},{"g":1},{"g":1.5},{"g":2},{"g":2.5},{"g":3}]},
     "mark": {"type": "rule", "color": "#000000", "strokeWidth": 1.2, "strokeDash": [1.5, 2.5]},
     "encoding": {"y": {"field": "g", "type": "quantitative"}, "x": {"datum": -0.03, "type": "quantitative"}, "x2": {"datum": 1.29}}},
    {"data": {"values": [{"g":0},{"g":0.2},{"g":0.4},{"g":0.6},{"g":0.8},{"g":1.0},{"g":1.2}]},
     "mark": {"type": "rule", "color": "#000000", "strokeWidth": 1.2, "strokeDash": [1.5, 2.5]},
     "encoding": {"x": {"field": "g", "type": "quantitative"}, "y": {"datum": -0.08, "type": "quantitative"}, "y2": {"datum": 3.15}}},
    {"data": {"values": [{}]},
     "mark": {"type": "rule", "color": "#000000", "strokeWidth": 1.5},
     "encoding": {"y": {"datum": -0.169, "type": "quantitative"}, "x": {"datum": 0, "type": "quantitative"}, "x2": {"datum": 1.2}}},
    {"data": {"name": "profiles"},
     "mark": {"type": "line", "strokeWidth": 1.6},
     "encoding": {
       "x": {"field": "u", "type": "quantitative", "scale": {"domain": [-0.6262, 1.8084], "nice": false, "zero": false},
             "axis": {"values": [0,0.05,0.1,0.15,0.2,0.25,0.3,0.35,0.4,0.45,0.5,0.55,0.6,0.65,0.7,0.75,0.8,0.85,0.9,0.95,1,1.05,1.1,1.15,1.2], "tickCount": 200, "labelExpr": "(abs(datum.value*5 - round(datum.value*5)) < 0.01 && datum.value < 1.01) ? '' + round(datum.value*10)/10 : ''", "domain": false, "offset": 8.4, "tickSize": {"condition": {"test": "abs(datum.value*5 - round(datum.value*5)) < 0.01", "value": 15}, "value": 8}, "tickWidth": 1.5, "labelFontSize": 16, "labelPadding": 8, "labelOverlap": false, "labelFlush": false, "title": "U/Uo", "titleFontSize": 19, "titleFontWeight": "bold", "titlePadding": 8}},
       "y": {"field": "yd", "type": "quantitative", "scale": {"domain": [-0.05, 3.333], "nice": false, "zero": false},
             "axis": {"values": [0,0.1,0.2,0.3,0.4,0.5,0.6,0.7,0.8,0.9,1,1.1,1.2,1.3,1.4,1.5,1.6,1.7,1.8,1.9,2,2.1,2.2,2.3,2.4,2.5,2.6,2.7,2.8,2.9,3], "tickCount": 200, "labelExpr": "abs(datum.value*2 - round(datum.value*2)) < 0.01 ? '' + round(datum.value*10)/10 : ''", "offset": -207.8, "domainWidth": 2, "tickSize": {"condition": {"test": "abs(datum.value*2 - round(datum.value*2)) < 0.01", "value": 14}, "value": 6}, "tickWidth": 1.5, "labelFontSize": 17, "labelPadding": 4, "labelOverlap": false, "labelFlush": false, "title": "Y/D", "titleFontSize": 18, "titleFontWeight": "bold", "titlePadding": 8}},
       "color": {"field": "series", "type": "nominal",
                 "scale": {"domain": ["1st Turbine", "10D", "20D", "2nd Turbine", "40D", "60D"], "range": ["#e8303c", "#3ddc3d", "#7b3590", "#f5a540", "#d040d0", "#4a3ad8"]},
                 "legend": {"orient": "none", "legendX": 170.3, "legendY": 313, "columns": 4, "direction": "horizontal", "title": null, "symbolType": "stroke", "symbolSize": 1600, "symbolStrokeWidth": 1.6, "labelFontSize": 11, "labelOffset": 14, "columnPadding": 24, "rowPadding": 17, "padding": 0}},
       "strokeDash": {"field": "series", "type": "nominal", "scale": {"domain": ["1st Turbine", "10D", "20D", "2nd Turbine", "40D", "60D"], "range": [[1,0],[1,0],[1,0],[1,0],[1,0],[5,3]]}},
       "order": {"field": "i", "type": "quantitative"}
     }}
  ]
}
]
}
